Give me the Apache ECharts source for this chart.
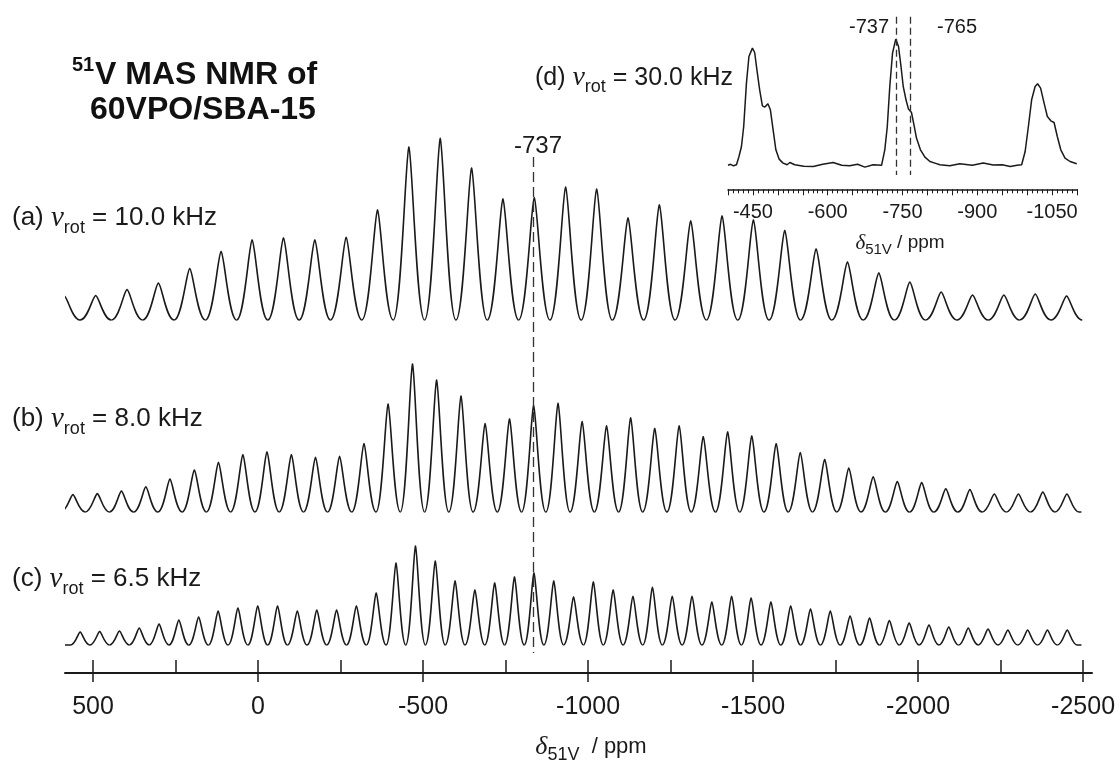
<!DOCTYPE html>
<html>
<head>
<meta charset="utf-8">
<script src="https://cdn.jsdelivr.net/npm/echarts@6.0.0/dist/echarts.min.js"></script>
<style>
html,body{margin:0;padding:0;background:#fff;}
#chart{width:1119px;height:762px;}
</style>
</head>
<body>
<div id="chart"></div>
<script>
// ---------------- DATA ----------------
// (a) spinning-sideband manifold at 10.0 kHz: peak positions (ppm, on the drawn axis) and heights
const ppmA = [587, 492, 397, 302, 207, 112, 18, -77, -172, -267, -362, -457, -552, -647, -742, -837, -932, -1026, -1121, -1216, -1311, -1406, -1501, -1596, -1691, -1786, -1881, -1975, -2070, -2165, -2260, -2355, -2450];
const intA = [24, 24.5, 30.5, 37, 51.5, 68.4, 80, 82, 80, 82.6, 110, 173, 181.6, 152, 121, 122.4, 133, 131, 102, 115, 99, 104, 100, 89.5, 71, 58, 47, 38, 28, 25, 25, 26, 24];

// (b) 8.0 kHz
const ppmB = [561, 487, 414, 340, 267, 193, 120, 46, -27, -101, -174, -247, -321, -394, -468, -541, -615, -688, -762, -835, -909, -982, -1056, -1129, -1202, -1276, -1349, -1423, -1496, -1570, -1643, -1717, -1790, -1864, -1937, -2011, -2084, -2157, -2231, -2304, -2378, -2451];
const intB = [17.4, 18.4, 21, 25.2, 33, 42, 49.5, 57.3, 60, 57.3, 54.6, 55.6, 68.4, 108, 148, 132, 116, 88.4, 93, 106.3, 108.6, 90.4, 86.2, 94.2, 83.5, 86.2, 75.2, 80, 76, 68.3, 59.4, 52.5, 44, 35.3, 30.5, 29.4, 23.2, 22.5, 18, 18, 20, 18];

// (c) 6.5 kHz
const ppmC = [539, 480, 420, 360, 300, 240, 180, 121, 61, 1, -59, -119, -178, -238, -298, -358, -418, -477, -537, -597, -657, -717, -777, -836, -896, -956, -1016, -1076, -1136, -1195, -1255, -1315, -1375, -1435, -1494, -1554, -1614, -1674, -1734, -1794, -1853, -1913, -1973, -2033, -2093, -2152, -2212, -2272, -2332, -2392, -2452];
const intC = [13, 13.5, 14, 17, 21, 25, 28, 34, 37, 39, 39, 34, 35, 35, 39, 52, 82, 99, 84, 64, 55, 62, 68, 72, 64, 48, 63, 55, 48.6, 57.6, 48.6, 48.6, 43, 48.6, 47, 43, 39, 36, 34, 29, 27, 24.5, 22, 20, 18, 17, 16, 15, 15, 15, 15];

// extent of the recorded traces (ppm)
const traceStart = 585;
const traceEnd = -2495;

// (d) inset, 30.0 kHz centre band region
const insetPpm = [-400,-405,-411,-417,-422,-427,-431.5,-437,-442,-449,-453.5,-458,-463.5,-469,-474,-480,-485,-490.5,-496,-502.5,-510.5,-518.5,-524,-534,-552,-571,-590,-611,-628,-644,-660,-674.5,-691,-708,-714.5,-719.5,-724.5,-730,-736.5,-742,-747,-751.5,-757,-762,-768,-773,-778,-786,-795,-805,-815,-825,-845,-865,-890,-912,-932,-950,-966,-980,-989,-996,-1002.5,-1009,-1016,-1021,-1027,-1034,-1040.5,-1047.5,-1054,-1060.5,-1067.5,-1076,-1086,-1099.5];
const insetInt = [0,1,-0.5,0.5,8.8,18.8,38.8,82.2,108.8,117.2,112.8,95.5,75.5,59.5,58.2,61.5,55.5,35.5,15.5,6.2,2.2,0.5,2.8,0.5,-1,-1.2,1,2.8,0,-0.5,1,-1.8,0.5,0,15.5,38.8,78.8,112.2,126.2,118.8,98.8,78.8,65.5,56.2,52.8,40.5,27.2,15.5,8.2,3.8,2.2,0.5,-0.5,1.5,0,2.2,0.2,0.5,-1.2,0,0.5,13.8,38.8,65.5,78.8,81.5,77.2,62.2,48.8,44.5,42.8,28.8,15.5,7.2,3.8,1.5];

// reference lines
const mainMarkPpm = -835;        // dashed line through the isotropic band on the drawn axis
const mainMarkLabel = '-737';
const insetMarks = [-737, -765];

// tick labels
const mainTickLabels = [500, 0, -500, -1000, -1500, -2000, -2500];
const mainMinorTicks = [500, 250, 0, -250, -500, -750, -1000, -1250, -1500, -1750, -2000, -2250, -2500];
const insetTickLabels = [-450, -600, -750, -900, -1050];

// texts
const rotLabels = [
  {tag: '(a)', rate: '10.0'},
  {tag: '(b)', rate: '8.0'},
  {tag: '(c)', rate: '6.5'}
];
const insetLabel = {tag: '(d)', rate: '30.0'};

// ---------------- LAYOUT / STYLE ----------------
const ink = '#1a1a1a';
const sans = '"Liberation Sans", Arial, Helvetica, sans-serif';
const serif = '"Liberation Serif", "Times New Roman", serif';
const traceBase = {a: 353, b: 161, c: 28};   // vertical offsets of the stacked traces
const rotLabelY = [218, 419, 579];

const insetTicks10 = [];
for (let v = -1100; v <= -400; v += 10) insetTicks10.push(v);
const insetTicks50 = [];
for (let v = -1100; v <= -400; v += 50) insetTicks50.push(v);

function peakRenderer(ppms, base) {
  return function (params, api) {
    const i = params.dataIndex;
    const p = api.value(0), h = api.value(1);
    const prev = i > 0 ? ppms[i - 1] : null;
    const next = i < ppms.length - 1 ? ppms[i + 1] : null;
    const leftMid = prev !== null ? (prev + p) / 2 : p + (p - next) / 2;
    const rightMid = next !== null ? (p + next) / 2 : p - (prev - p) / 2;
    const apex = api.coord([p, base + h]);
    const cx = apex[0], ty = apex[1];
    const by = api.coord([p, base])[1];
    const lx = api.coord([leftMid, base])[0];
    const rx = api.coord([rightMid, base])[0];
    const hl = cx - lx, hr = rx - cx, H = by - ty;
    let d = '';
    if (prev === null && traceStart > leftMid) {
      d += 'M' + api.coord([traceStart, base])[0] + ' ' + by + ' L' + lx + ' ' + by;
    } else {
      d += 'M' + lx + ' ' + by;
    }
    d += ' C' + (cx - 0.5 * hl) + ' ' + by + ' ' + (cx - 0.2 * hl) + ' ' + (ty + 0.02 * H) + ' ' + cx + ' ' + ty;
    d += ' C' + (cx + 0.2 * hr) + ' ' + (ty + 0.02 * H) + ' ' + (cx + 0.5 * hr) + ' ' + by + ' ' + rx + ' ' + by;
    if (next === null && traceEnd < rightMid) {
      d += ' L' + api.coord([traceEnd, base])[0] + ' ' + by;
    }
    return {
      type: 'path',
      shape: {pathData: d},
      style: {fill: 'none', stroke: ink, lineWidth: 1.6, lineJoin: 'round'}
    };
  };
}

function traceSeries(name, ppms, ints, base) {
  return {
    name: name,
    type: 'custom',
    xAxisIndex: 0, yAxisIndex: 0,
    clip: true,
    silent: true,
    renderItem: peakRenderer(ppms, base),
    data: ppms.map((p, i) => [p, ints[i]])
  };
}

function rotRich(fs) {
  const lh = Math.round(fs * 1.45);
  return {
    n: {fontFamily: sans, fontSize: fs, lineHeight: lh, verticalAlign: 'middle', fill: ink},
    v: {fontFamily: serif, fontStyle: 'italic', fontSize: Math.round(fs * 1.1), lineHeight: lh, verticalAlign: 'middle', fill: ink},
    s: {fontFamily: sans, fontSize: Math.round(fs * 0.7), lineHeight: Math.round(fs * 0.7), verticalAlign: 'bottom', fill: ink}
  };
}
function rotText(lbl) {
  return '{n|' + lbl.tag + ' }{v|ν}{s|rot}{n| = ' + lbl.rate + ' kHz}';
}
function textEl(x, y, align, text, extra) {
  const style = Object.assign({
    text: text, fill: ink,
    align: align, textAlign: align,
    verticalAlign: 'middle', textVerticalAlign: 'middle'
  }, extra || {});
  return {type: 'text', x: x, y: y, silent: true, z: 100, style: style};
}

const graphics = [];
// title
graphics.push(textEl(72, 65.5, 'left', '51', {fontFamily: sans, fontWeight: 'bold', fontSize: 20, fill: '#111'}));
graphics.push(textEl(95, 75.5, 'left', 'V MAS NMR of', {fontFamily: sans, fontWeight: 'bold', fontSize: 32, fill: '#111'}));
graphics.push(textEl(90, 110.5, 'left', '60VPO/SBA-15', {fontFamily: sans, fontWeight: 'bold', fontSize: 32, fill: '#111'}));
// spinning rate labels
rotLabels.forEach((lbl, i) => {
  graphics.push(textEl(12, rotLabelY[i], 'left', rotText(lbl), {rich: rotRich(26)}));
});
graphics.push(textEl(733, 78, 'right', rotText(insetLabel), {rich: rotRich(25)}));
// reference line labels
graphics.push(textEl(538, 146, 'center', mainMarkLabel, {fontFamily: sans, fontSize: 24}));
graphics.push(textEl(889, 27, 'right', String(insetMarks[0]), {fontFamily: sans, fontSize: 20}));
graphics.push(textEl(937, 27, 'left', String(insetMarks[1]), {fontFamily: sans, fontSize: 20}));
// axis titles
graphics.push(textEl(591, 747, 'center', '{d|δ}{s|51V}{n|  / ppm}', {rich: {
  d: {fontFamily: serif, fontStyle: 'italic', fontSize: 26, lineHeight: 34, verticalAlign: 'middle', fill: ink},
  s: {fontFamily: sans, fontSize: 18, lineHeight: 18, verticalAlign: 'bottom', fill: ink},
  n: {fontFamily: sans, fontSize: 22, lineHeight: 34, verticalAlign: 'middle', fill: ink}
}}));
graphics.push(textEl(900, 243, 'center', '{d|δ}{s|51V}{n| / ppm}', {rich: {
  d: {fontFamily: serif, fontStyle: 'italic', fontSize: 21, lineHeight: 28, verticalAlign: 'middle', fill: ink},
  s: {fontFamily: sans, fontSize: 15, lineHeight: 15, verticalAlign: 'bottom', fill: ink},
  n: {fontFamily: sans, fontSize: 19, lineHeight: 28, verticalAlign: 'middle', fill: ink}
}}));

const option = {
  animation: false,
  backgroundColor: '#ffffff',
  grid: [
    {left: 65, right: 27, top: 20, bottom: 89, containLabel: false, outerBoundsMode: 'none'},
    {left: 728, right: 42, top: 10, bottom: 572.7, containLabel: false, outerBoundsMode: 'none'}
  ],
  xAxis: [
    {
      gridIndex: 0, type: 'value', position: 'bottom', min: -2527, max: 585, inverse: true,
      axisLine: {show: true, onZero: false, lineStyle: {color: ink, width: 2}},
      axisTick: {show: true, inside: true, length: 13, lineStyle: {color: ink, width: 1.5}, customValues: mainMinorTicks},
      axisLabel: {show: true, customValues: mainTickLabels, fontFamily: sans, fontSize: 25, color: ink, margin: 22, formatter: v => String(v)},
      splitLine: {show: false}
    },
    {
      gridIndex: 0, type: 'value', position: 'bottom', min: -2527, max: 585, inverse: true,
      axisLine: {show: false, onZero: false},
      axisTick: {show: true, inside: false, length: 9, lineStyle: {color: ink, width: 1.5}, customValues: mainTickLabels},
      axisLabel: {show: false},
      splitLine: {show: false}
    },
    {
      gridIndex: 1, type: 'value', position: 'bottom', min: -1100, max: -400, inverse: true,
      axisLine: {show: true, onZero: false, lineStyle: {color: ink, width: 1.5}},
      axisTick: {show: true, inside: false, length: 4, lineStyle: {color: ink, width: 1}, customValues: insetTicks10},
      axisLabel: {show: true, customValues: insetTickLabels, fontFamily: sans, fontSize: 20, color: ink, margin: 13, formatter: v => String(v)},
      splitLine: {show: false}
    },
    {
      gridIndex: 1, type: 'value', position: 'bottom', min: -1100, max: -400, inverse: true,
      axisLine: {show: false, onZero: false},
      axisTick: {show: true, inside: false, length: 6, lineStyle: {color: ink, width: 1}, customValues: insetTicks50},
      axisLabel: {show: false},
      splitLine: {show: false}
    }
  ],
  yAxis: [
    {gridIndex: 0, type: 'value', min: 0, max: 653, show: false},
    {gridIndex: 1, type: 'value', min: -24, max: 155.3, show: false}
  ],
  graphic: graphics,
  series: [
    traceSeries('(a) 10.0 kHz', ppmA, intA, traceBase.a),
    traceSeries('(b) 8.0 kHz', ppmB, intB, traceBase.b),
    traceSeries('(c) 6.5 kHz', ppmC, intC, traceBase.c),
    {
      name: 'marker', type: 'line', xAxisIndex: 0, yAxisIndex: 0, data: [],
      markLine: {
        silent: true, symbol: ['none', 'none'], label: {show: false},
        lineStyle: {type: [10, 5], color: '#333', width: 1.3},
        data: [[{coord: [mainMarkPpm, 516]}, {coord: [mainMarkPpm, 20]}]]
      }
    },
    {
      name: '(d) 30.0 kHz', type: 'line', xAxisIndex: 2, yAxisIndex: 1,
      showSymbol: false, symbol: 'none', silent: true,
      lineStyle: {color: ink, width: 1.5},
      data: insetPpm.map((p, i) => [p, insetInt[i]]),
      markLine: {
        silent: true, symbol: ['none', 'none'], label: {show: false},
        lineStyle: {type: [7, 4], color: '#333', width: 1.3},
        data: insetMarks.map(m => [{coord: [m, 148.6]}, {coord: [m, -9.7]}])
      }
    }
  ]
};

const chart = echarts.init(document.getElementById('chart'), null, {renderer: 'canvas'});
chart.setOption(option);
</script>
</body>
</html>
